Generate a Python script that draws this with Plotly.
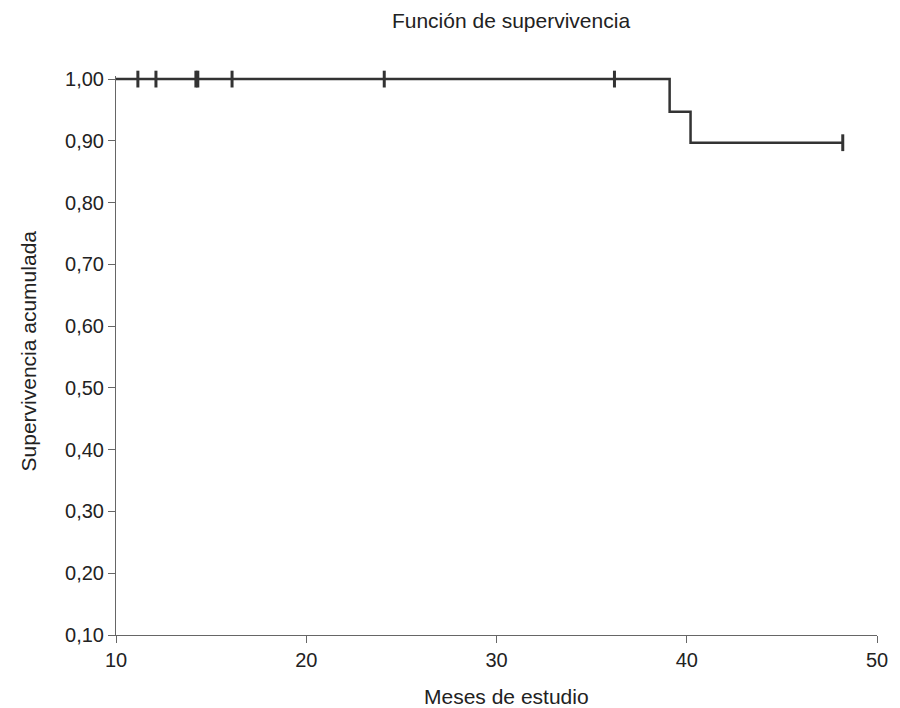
import plotly.graph_objects as go

# Kaplan-Meier step data
step_times = [0, 39.1, 40.2, 48.2]
step_surv = [1.0, 0.947, 0.897, 0.897]

# Censored observations
cens_times = [11.15, 12.1, 14.2, 14.3, 16.1, 24.1, 36.2, 48.2]
cens_surv = [1.0, 1.0, 1.0, 1.0, 1.0, 1.0, 1.0, 0.897]

y_ticks = [0.1, 0.2, 0.3, 0.4, 0.5, 0.6, 0.7, 0.8, 0.9, 1.0]
x_ticks = [10, 20, 30, 40, 50]

LINE = "#333333"
AX = "#666666"
TXT = "#222222"
FONT = "Liberation Sans, Arial, sans-serif"

fig = go.Figure()
fig.add_trace(go.Scatter(
    x=step_times, y=step_surv, mode="lines",
    line=dict(color=LINE, width=2.5, shape="hv"),
    hoverinfo="skip", showlegend=False))
fig.add_trace(go.Scatter(
    x=cens_times, y=cens_surv, mode="markers",
    marker=dict(symbol="line-ns", size=12, line=dict(color=LINE, width=3)),
    cliponaxis=False, showlegend=False))

fig.update_layout(
    width=900, height=708,
    margin=dict(l=116, r=16, t=76, b=73),
    paper_bgcolor="white", plot_bgcolor="white",
    separators=",.",
    font=dict(family=FONT, color=TXT),
    title=dict(text="Función de supervivencia", x=511 / 900, xref="container",
               xanchor="center", y=1 - 21 / 708, yref="container", yanchor="middle",
               font=dict(size=21, family=FONT, color=TXT)),
    annotations=[
        dict(text="Meses de estudio", xref="paper", yref="paper",
             x=(510 - 116) / 768, y=0, xanchor="center", yanchor="middle",
             yshift=-61, showarrow=False,
             font=dict(size=21, family=FONT, color=TXT)),
        dict(text="Supervivencia acumulada", xref="paper", yref="paper",
             x=0, y=(635 - 353) / 556, xanchor="center", yanchor="middle",
             xshift=-88, textangle=-90, showarrow=False,
             font=dict(size=21, family=FONT, color=TXT)),
    ],
)
fig.update_xaxes(
    range=[10, 50], tickvals=x_ticks, showgrid=False, zeroline=False,
    showline=True, linecolor=AX, linewidth=1,
    ticks="outside", ticklen=7, tickcolor=AX, tickwidth=1,
    tickfont=dict(size=20, family=FONT, color=TXT),
)
fig.update_yaxes(
    range=[0.1, 1.005], tickvals=y_ticks, tickformat=".2f",
    showgrid=False, zeroline=False,
    showline=True, linecolor=AX, linewidth=1,
    ticks="outside", ticklen=7, tickcolor=AX, tickwidth=1,
    tickfont=dict(size=20, family=FONT, color=TXT),
)

fig.write_html("out.html", config={"displayModeBar": False},
               post_script="document.body.style.margin='0';document.body.style.overflow='hidden';")
